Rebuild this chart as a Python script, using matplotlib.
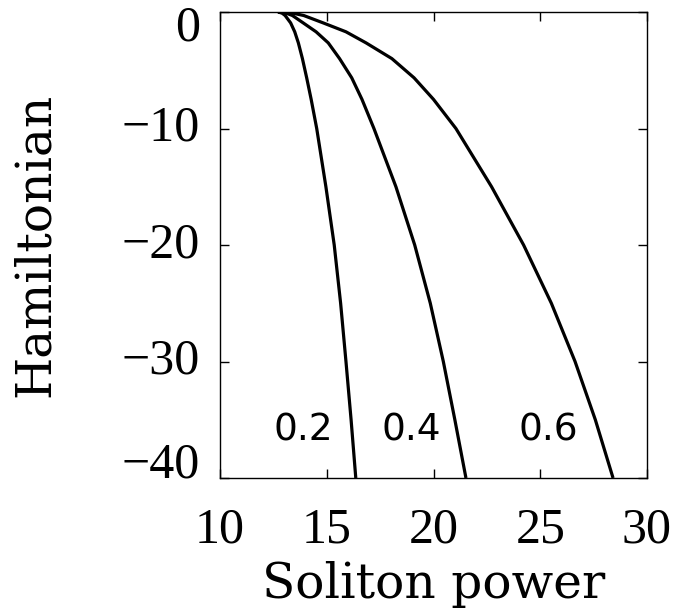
import matplotlib
matplotlib.use("Agg")
import matplotlib.pyplot as plt

# Data
h_levels = [0, -0.1, -0.3, -0.94, -1.7, -2.65, -4.0, -5.65, -7.5, -10,
            -15, -20, -25, -30, -35, -40]
p_02 = [12.72, 12.91, 13.05, 13.31, 13.50, 13.67, 13.86, 14.06, 14.27, 14.53,
        14.96, 15.35, 15.65, 15.90, 16.14, 16.36]
p_04 = [12.72, 13.10, 13.39, 13.90, 14.50, 15.07, 15.60, 16.17, 16.65, 17.21,
        18.24, 19.12, 19.85, 20.46, 21.00, 21.52]
p_06 = [12.72, 13.41, 13.92, 14.84, 15.90, 16.84, 18.05, 19.09, 20.00, 21.05,
        22.72, 24.22, 25.52, 26.63, 27.58, 28.41]
curve_labels = ["0.2", "0.4", "0.6"]
label_x = [13.89, 18.98, 25.36]
label_y = -35.9

x_ticks = [10, 15, 20, 25, 30]
x_tick_labels = ["10", "15", "20", "25", "30"]
y_ticks = [0, -10, -20, -30, -40]
y_tick_labels = ["0", "\u221210", "\u221220", "\u221230", "\u221240"]
y_label_offsets = [-16, 0, 0, 0, 13]  # pixel shifts

serif = ["Liberation Serif", "DejaVu Serif"]
wide_serif = ["DejaVu Serif"]

fig = plt.figure(figsize=(6.76, 6.11), dpi=100)
ax = fig.add_axes([220/676, 1 - 478/611, 427/676, 466/611])

for p in (p_02, p_04, p_06):
    ax.plot(p, h_levels, color="black", lw=2.3, solid_capstyle="butt",
            solid_joinstyle="round")

ax.set_xlim(10, 30)
ax.set_ylim(-40, 0)

ax.set_xticks(x_ticks)
ax.set_xticklabels(x_tick_labels, fontsize=36, family=serif)
ax.set_yticks(y_ticks)
ax.set_yticklabels([])
ax.tick_params(direction="in", length=6.5, width=1.0, top=True, right=True,
               colors="black")
ax.tick_params(axis="x", pad=21)
for s in ax.spines.values():
    s.set_linewidth(1.0)

for v, lab, off in zip(y_ticks, y_tick_labels, y_label_offsets):
    ax.annotate(lab, xy=(0, v), xycoords=("axes fraction", "data"),
                xytext=(-20 * 0.72, off * 0.72), textcoords="offset points",
                ha="right", va="center", fontsize=36, family=serif)

ax.set_xlabel("Soliton power", fontsize=35, family=wide_serif)
ax.set_ylabel("Hamiltonian", fontsize=35, family=wide_serif)
ax.xaxis.set_label_coords(0.5, -0.178)
ax.yaxis.set_label_coords(-0.377, 0.5)

for lx, lab in zip(label_x, curve_labels):
    ax.text(lx, label_y, lab, ha="center", va="center", fontsize=27,
            family=["DejaVu Sans"])

fig.savefig("out.png", dpi=100)
